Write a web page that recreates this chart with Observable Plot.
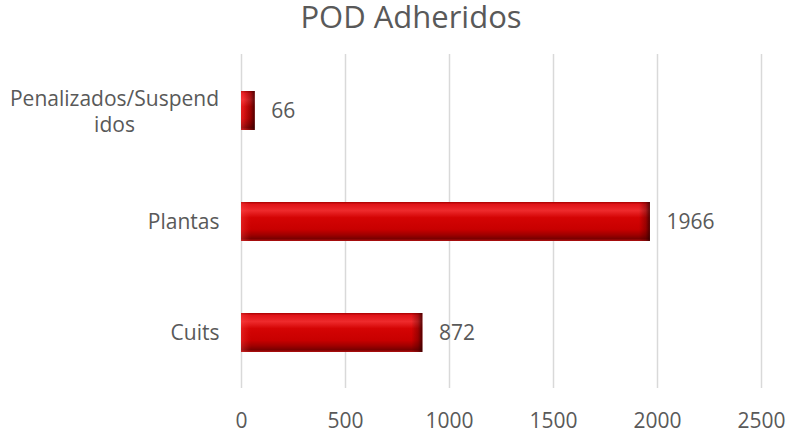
<!DOCTYPE html>
<html>
<head>
<meta charset="utf-8">
<script src="https://cdn.jsdelivr.net/npm/d3@7"></script>
<script src="https://cdn.jsdelivr.net/npm/@observablehq/plot@0.6"></script>
<style>
  body { margin: 0; background: #fff; }
  #wrap { position: relative; width: 787px; height: 432px; font-family: "Open Sans", sans-serif; }
  #title { position: absolute; left: 411px; top: 1px; transform: translateX(-50%); white-space: nowrap; font-size: 31px; line-height: 31px; color: #595959; }
</style>
</head>
<body>
<div id="wrap"><div id="title">POD Adheridos</div></div>
<script>
const categories = ["Penalizados/Suspend\nidos", "Plantas", "Cuits"];
const values = [66, 1966, 872];
const xTicks = [0, 500, 1000, 1500, 2000, 2500];

const data = categories.map((c, i) => ({category: c, value: values[i]}));
const single = data.filter(d => !d.category.includes("\n"));
const multi = data.filter(d => d.category.includes("\n"));
const textColor = "#595959";

const chart = Plot.plot({
  width: 787,
  height: 432,
  marginLeft: 241,
  marginRight: 26,
  marginTop: 54,
  marginBottom: 44,
  style: {fontFamily: "Open Sans, sans-serif", color: textColor, background: "transparent"},
  x: {domain: [0, 2500], ticks: xTicks},
  y: {domain: categories, paddingInner: 0.65, paddingOuter: 0.325, axis: null},
  marks: [
    Plot.gridX(xTicks, {stroke: "#d9d9d9", strokeOpacity: 1, strokeWidth: 1.5}),
    Plot.axisX(xTicks, {tickSize: 0, tickPadding: 25, fontSize: 21, label: null, fill: textColor, tickFormat: d => String(d)}),
    Plot.barX(data, {y: "category", x: "value", fill: "url(#barGrad)"}),
    Plot.barX(data, {y: "category", x1: 0, x2: 0, insetRight: -10, fill: "url(#leftCap)"}),
    Plot.barX(data, {y: "category", x1: "value", x2: "value", insetLeft: -11, fill: "url(#rightCap)"}),
    Plot.text(data, {y: "category", x: "value", text: d => String(d.value), dx: 16, textAnchor: "start", fontSize: 21, fill: textColor}),
    Plot.text(single, {y: "category", x: 0, text: "category", dx: -22, textAnchor: "end", fontSize: 21, fill: textColor}),
    Plot.text(multi, {y: "category", x: 0, text: "category", dx: -127, textAnchor: "middle", fontSize: 21, lineHeight: 1.22, fill: textColor})
  ]
});

const svg = d3.select(chart);
const defs = svg.insert("defs", ":first-child");
const vg = defs.append("linearGradient").attr("id", "barGrad").attr("x1", 0).attr("y1", 0).attr("x2", 0).attr("y2", 1);
[[0, "#a80000"], [0.06, "#e01418"], [0.22, "#ee2a2c"], [0.4, "#d40404"], [0.7, "#c80000"], [0.84, "#a00000"], [0.94, "#7a0000"], [1, "#b01010"]]
  .forEach(([o, c]) => vg.append("stop").attr("offset", o).attr("stop-color", c));
const lg = defs.append("linearGradient").attr("id", "leftCap").attr("x1", 0).attr("y1", 0).attr("x2", 1).attr("y2", 0);
[[0, "#ff5050", 0.35], [1, "#ff3030", 0]].forEach(([o, c, a]) => lg.append("stop").attr("offset", o).attr("stop-color", c).attr("stop-opacity", a));
const rg = defs.append("linearGradient").attr("id", "rightCap").attr("x1", 0).attr("y1", 0).attr("x2", 1).attr("y2", 0);
[[0, "#400000", 0], [0.6, "#400000", 0.35], [1, "#200000", 0.75]].forEach(([o, c, a]) => rg.append("stop").attr("offset", o).attr("stop-color", c).attr("stop-opacity", a));

document.getElementById("wrap").appendChild(chart);
</script>
</body>
</html>
